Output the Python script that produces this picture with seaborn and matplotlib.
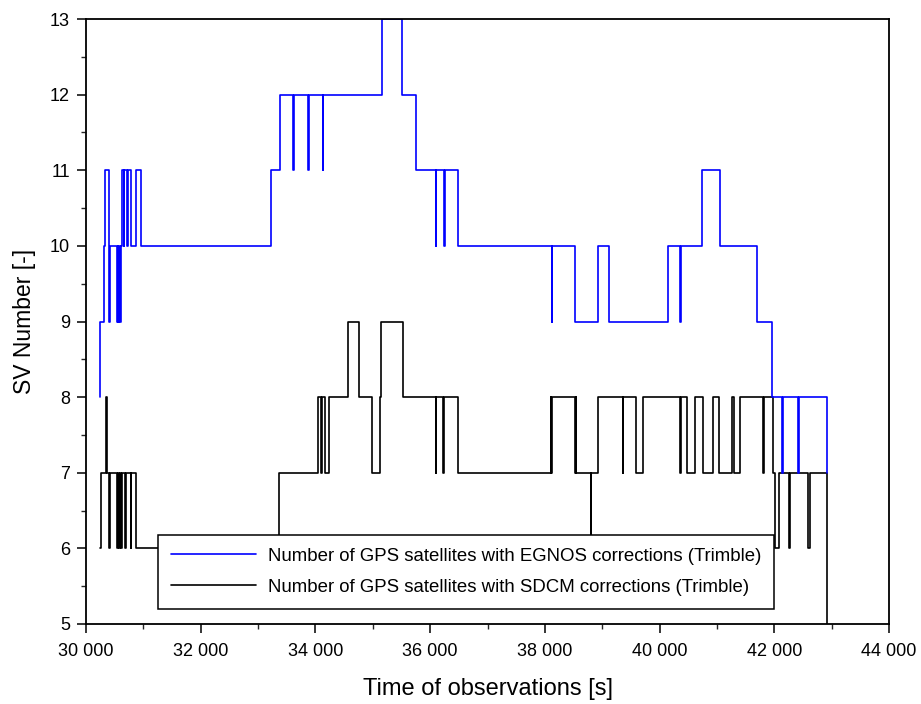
import matplotlib
matplotlib.use("Agg")
import matplotlib.pyplot as plt
import seaborn as sns
import pandas as pd
from matplotlib.ticker import FuncFormatter, MultipleLocator

# Epochs (s) at which the number of corrected satellites changes, and the new count
egnos_time = [30244, 30252, 30317, 30338, 30401, 30418, 30540, 30556, 30566, 30583,
              30593, 30610, 30627, 30660, 30671, 30720, 30735, 30793, 30880, 30959,
              33219, 33381, 33603, 33625, 33869, 33890, 34126, 34140, 35154, 35513,
              35747, 36095, 36110, 36240, 36255, 36489, 38117, 38130, 38523, 38929,
              39116, 40149, 40353, 40365, 40743, 41051, 41701, 41952, 42142, 42155,
              42415, 42430, 42921]
egnos_sv = [8, 9, 10, 11, 9, 10, 9, 10, 9, 10,
            9, 10, 11, 10, 11, 10, 11, 10, 11, 10,
            11, 12, 11, 12, 11, 12, 11, 12, 13, 12,
            11, 10, 11, 10, 11, 10, 9, 10, 9, 10,
            9, 10, 9, 10, 11, 10, 9, 8, 7, 8,
            7, 8, 7]

sdcm_time = [30250, 30261, 30357, 30370, 30401, 30412, 30540, 30550, 30575, 30585,
             30610, 30620, 30680, 30690, 30779, 30789, 30872, 33369, 34049, 34100,
             34120, 34166, 34241, 34561, 34758, 34980, 35124, 35150, 35520, 36095,
             36110, 36228, 36245, 36489, 38100, 38110, 38130, 38523, 38535, 38550,
             38797, 38810, 38929, 39354, 39365, 39587, 39703, 40353, 40365, 40470,
             40615, 40760, 40923, 41039, 41271, 41290, 41399, 41805, 41820, 41980,
             42014, 42088, 42258, 42275, 42590, 42630, 42921]
sdcm_sv = [6, 7, 8, 7, 6, 7, 6, 7, 6, 7,
           6, 7, 6, 7, 6, 7, 6, 7, 8, 7,
           8, 7, 8, 9, 8, 7, 8, 9, 8, 7,
           8, 7, 8, 7, 8, 7, 8, 7, 8, 7,
           6, 7, 8, 7, 8, 7, 8, 7, 8, 7,
           8, 7, 8, 7, 8, 7, 8, 7, 8, 7,
           6, 7, 6, 7, 6, 7, 5]

label_egnos = "Number of GPS satellites with EGNOS corrections (Trimble)"
label_sdcm = "Number of GPS satellites with SDCM corrections (Trimble)"

sns.set_style("ticks")
plt.rcParams["font.family"] = ["Liberation Sans", "DejaVu Sans"]
plt.rcParams["text.color"] = "black"
plt.rcParams["axes.labelcolor"] = "black"

fig = plt.figure(figsize=(9.21, 7.04), dpi=100)
ax = fig.add_axes([86 / 921, 1 - 624 / 704, (889 - 86) / 921, (624 - 19) / 704])

df_sdcm = pd.DataFrame({"t": sdcm_time, "sv": sdcm_sv})
df_egnos = pd.DataFrame({"t": egnos_time, "sv": egnos_sv})

sns.lineplot(data=df_sdcm, x="t", y="sv", estimator=None, drawstyle="steps-post",
             color="black", lw=1.2, ax=ax, label=label_sdcm)
sns.lineplot(data=df_egnos, x="t", y="sv", estimator=None, drawstyle="steps-post",
             color="#0000ff", lw=1.2, ax=ax, label=label_egnos)

ax.set_xlim(30000, 44000)
ax.set_ylim(5, 13)
ax.xaxis.set_major_locator(MultipleLocator(2000))
ax.xaxis.set_minor_locator(MultipleLocator(1000))
ax.yaxis.set_major_locator(MultipleLocator(1))
ax.yaxis.set_minor_locator(MultipleLocator(0.5))
ax.xaxis.set_major_formatter(FuncFormatter(lambda v, p: f"{int(v):,}".replace(",", " ")))

for s in ax.spines.values():
    s.set_visible(True)
    s.set_color("black")
    s.set_linewidth(1.3)

ax.tick_params(axis="both", which="major", direction="out", length=6.5, width=1.1,
               labelsize=13, colors="black", pad=5)
ax.tick_params(axis="x", which="major", pad=7)
ax.tick_params(axis="both", which="minor", direction="out", length=3.5, width=1.0)
ax.tick_params(top=False, right=False, which="both")

ax.set_xlabel("Time of observations [s]", fontsize=17, labelpad=13)
ax.set_ylabel("SV Number [-]", fontsize=16.5, labelpad=10)

handles, labels = ax.get_legend_handles_labels()
order = [labels.index(label_egnos), labels.index(label_sdcm)]
leg = ax.legend([handles[i] for i in order], [labels[i] for i in order],
                loc="lower left", bbox_to_anchor=(0.0893, 0.0248), borderaxespad=0,
                fontsize=13.4, frameon=True, fancybox=False, framealpha=1,
                edgecolor="black", handlelength=4.6, handletextpad=0.6,
                labelspacing=0.75, borderpad=0.7)
leg.get_frame().set_linewidth(1.1)
for line in leg.get_lines():
    line.set_linewidth(1.2)

fig.savefig("out.png", dpi=100)
